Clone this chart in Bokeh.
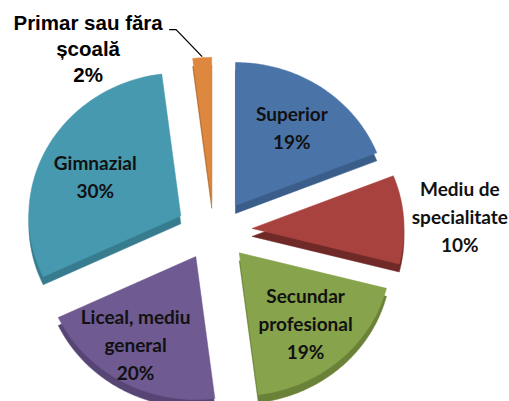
import numpy as np
from bokeh.plotting import figure
from bokeh.models import Range1d
from bokeh.embed import file_html
from bokeh.resources import INLINE
from bokeh.core.properties import value

# ---- data ----
categories = ["Superior", "Mediu de specialitate", "Secundar profesional",
              "Liceal, mediu general", "Gimnazial", "Primar sau făra școală"]
shares = [19, 10, 19, 20, 30, 2]
label_lines = ["Superior", "Mediu de\nspecialitate", "Secundar\nprofesional",
               "Liceal, mediu\ngeneral", "Gimnazial", "Primar sau făra\nșcoală"]

# ---- style ----
top_colors = ["#4a74a8", "#a8423f", "#87a34b", "#6f5a91", "#4699ae", "#dd873f"]
side_colors = ["#3a5d89", "#6f2a28", "#6a8238", "#574675", "#367c8e", "#b06a2d"]
label_frac = [0.66, 1.37, 0.66, 0.70, 0.62, None]
label_nudge = [(0, 0), (0, 0), (0, 0), (-9, 0), (-3, 3), (0, 0)]

CX, CY = 213.6, 229.8   # pixel-space centre (y grows downward)
RX, RY = 152, 143
EX, EY = 38, 30         # explosion
DEPTH = 8
W, H = 509, 401

p = figure(width=W, height=H, output_backend="svg", toolbar_location=None,
           x_range=Range1d(0, W), y_range=Range1d(H, 0),
           x_axis_type=None, y_axis_type=None, min_border=0)
p.outline_line_color = None
p.grid.visible = False
p.background_fill_color = "white"

total = float(sum(shares))
ends = np.cumsum(shares) / total * 2 * np.pi
starts = np.concatenate([[0.0], ends[:-1]])

tops_x, tops_y, sides_x, sides_y, apexes, mids = [], [], [], [], [], []
for s, e in zip(starts, ends):
    m = (s + e) / 2
    ax = CX + EX * np.sin(m)
    ay = CY - EY * np.cos(m)
    t = np.linspace(s, e, 80)
    xs = np.concatenate([[ax], ax + RX * np.sin(t)])
    ys = np.concatenate([[ay], ay - RY * np.cos(t)])
    tops_x.append(list(xs)); tops_y.append(list(ys))
    sides_x.append(list(xs)); sides_y.append(list(ys + DEPTH))
    apexes.append((ax, ay)); mids.append(m)

p.patches(sides_x, sides_y, fill_color=side_colors, line_color=side_colors, line_width=0.5)
p.patches(tops_x, tops_y, fill_color=top_colors, line_color=top_colors, line_width=0.5)

font_in = value("Lato")
lx, ly, lt = [], [], []
for i, (cat, pct) in enumerate(zip(label_lines, shares)):
    if label_frac[i] is None:
        continue
    ax, ay = apexes[i]
    m = mids[i]
    f = label_frac[i]
    lx.append(ax + f * RX * np.sin(m) + label_nudge[i][0])
    ly.append(ay - f * RY * np.cos(m) + label_nudge[i][1])
    lt.append(f"{cat}\n{pct}%")
p.text(x=lx, y=ly, text=lt, text_align="center", text_baseline="middle",
       text_font=font_in, text_font_style="bold", text_font_size="19px",
       text_color="#111111", text_line_height=1.22)

# leader label for the small slice
i = 5
ax, ay = apexes[i]; m = mids[i]
sx = ax + (RX + 1) * np.sin(m); sy = ay - (RY + 1) * np.cos(m)
ex_, ey_ = sx - 26, sy - 27
p.line([sx, ex_, ex_ - 7], [sy, ey_, ey_], line_color="black", line_width=1.3)
p.text(x=[ex_ - 88], y=[ey_ + 19], text=[f"{label_lines[i]}\n{shares[i]}%"],
       text_align="center", text_baseline="middle",
       text_font=value("Liberation Sans"), text_font_style="bold",
       text_font_size="20.5px", text_color="black", text_line_height=1.13)

open("out.html", "w").write(file_html(p, INLINE))
